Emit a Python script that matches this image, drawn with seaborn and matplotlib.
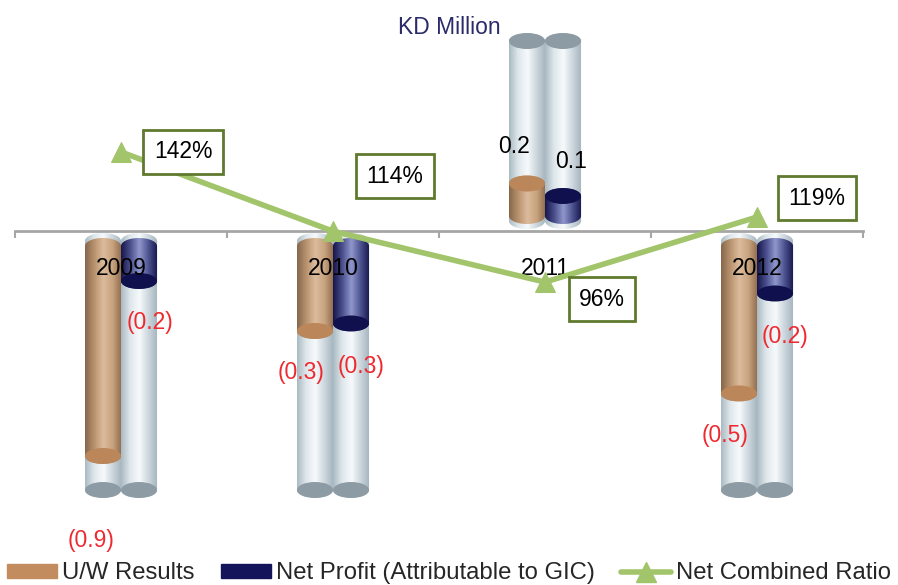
import numpy as np
import pandas as pd
import seaborn as sns
import matplotlib.pyplot as plt
from matplotlib.patches import Polygon, Ellipse, Patch
from matplotlib.lines import Line2D
from matplotlib.colors import LinearSegmentedColormap

# values (KD million), bar lengths as drawn
years = ["2009", "2010", "2011", "2012"]
uw_results = [-0.90, -0.40, 0.19, -0.65]
net_profit = [-0.20, -0.37, 0.14, -0.25]
# data labels as printed on the chart
uw_labels = ["(0.9)", "(0.3)", "0.2", "(0.5)"]
np_labels = ["(0.2)", "(0.3)", "0.1", "(0.2)"]
combined_ratio = [142, 114, 96, 119]
series_names = ["U/W Results", "Net Profit (Attributable to GIC)"]

# label placement (pixel offsets from the bar end / line point)
uw_offsets = [(-12, -85), (-14, -42), (-13, 37), (-14, -42)]
np_offsets = [(11, -41), (10, -43), (8, 35), (10, -43)]
ratio_offsets = [(62, 0), (62, 55), (57, -17), (60, 19)]

BROWN = "#c38c5f"
NAVY = "#14145a"
GREEN = "#a2c46a"
OLIVE = "#5f7a2e"
RED = "#ee2a30"

BACK_TOP, BACK_BOTTOM = 0.76, -1.036   # extent of the grey "tubes"
CAP_H = 0.064                           # ellipse height in data units

brown_cmap = LinearSegmentedColormap.from_list(
    "brown", ["#86674a", "#b8926e", "#dcbc9c", "#c8a27e", "#8c6a4a"])
navy_cmap = LinearSegmentedColormap.from_list(
    "navy", ["#15154a", "#4a4f8c", "#8f97cc", "#4c528e", "#14144a"])
back_cmap = LinearSegmentedColormap.from_list(
    "back", ["#a9b9c2", "#dfe7eb", "#f7fafb", "#cbd6dc", "#a3b3bc"])

sns.set_theme(style="white")
plt.rcParams["font.family"] = ["Liberation Sans", "DejaVu Sans"]

fig = plt.figure(figsize=(8.98, 5.85), dpi=100)
ax = fig.add_axes([15 / 898, 1 - 500 / 585, 848 / 898, 470 / 585])

df = pd.DataFrame({
    "year": years * 2,
    "value": uw_results + net_profit,
    "series": [series_names[0]] * 4 + [series_names[1]] * 4,
})
sns.barplot(data=df, x="year", y="value", hue="series", palette=[BROWN, NAVY],
            width=0.34, saturation=1, legend=False, ax=ax)


def cylinder(x0, w, y_start, y_end, cmap, cap_color, z):
    xc, a, b = x0 + w / 2, w / 2, CAP_H / 2
    lo, hi = min(y_start, y_end), max(y_start, y_end)
    t = np.linspace(0, np.pi, 60)
    upper = np.column_stack([xc + a * np.cos(t), hi + b * np.sin(t)])
    lower = np.column_stack([xc + a * np.cos(t + np.pi), lo + b * np.sin(t + np.pi)])
    poly = Polygon(np.vstack([upper, lower]), closed=True, facecolor="none",
                   edgecolor="none", transform=ax.transData)
    ax.add_patch(poly)
    grad = np.linspace(0, 1, 256).reshape(1, -1)
    im = ax.imshow(grad, cmap=cmap, extent=(x0, x0 + w, lo - b, hi + b),
                   aspect="auto", origin="lower", zorder=z, interpolation="bicubic")
    im.set_clip_path(poly)
    ax.add_patch(Ellipse((xc, y_end), w, 2 * b, facecolor=cap_color,
                         edgecolor="none", zorder=z + 0.1))


cmaps = [brown_cmap, navy_cmap]
caps = ["#bb8659", "#10104e"]
labels = [uw_labels, np_labels]
offsets = [uw_offsets, np_offsets]
for k, cont in enumerate(ax.containers):
    for i, bar in enumerate(cont):
        bar.set_visible(False)
        x0, w, v = bar.get_x(), bar.get_width(), bar.get_height()
        sgn = 1 if v > 0 else -1
        far = BACK_TOP if v > 0 else BACK_BOTTOM
        cylinder(x0, w, sgn * 0.04, far, back_cmap, "#8c9ba4", 1)
        cylinder(x0, w, sgn * 0.06, v, cmaps[k], caps[k], 3)
        ax.annotate(labels[k][i], xy=(x0 + w / 2, v), xytext=offsets[k][i],
                    textcoords="offset pixels", ha="center", va="center",
                    fontsize=16.5, color=RED if v < 0 else "black", zorder=6)

for i, yr in enumerate(years):
    ax.text(i, -0.15, yr, ha="center", va="center", fontsize=16.5,
            color="black", zorder=6)

ax.set_xlim(-0.5, 3.5)
ax.set_ylim(-(500 - 231) / 250, (231 - 30) / 250)
for s in ["top", "left", "right"]:
    ax.spines[s].set_visible(False)
ax.spines["bottom"].set_position(("data", 0))
ax.spines["bottom"].set_color("#a6a6a6")
ax.spines["bottom"].set_linewidth(2)
ax.set_xticks([-0.5, 0.5, 1.5, 2.5, 3.5])
ax.set_xticklabels([])
ax.tick_params(axis="x", direction="out", length=5, width=1.5, color="#a6a6a6",
               bottom=True)
ax.set_yticks([])
ax.set_xlabel("")
ax.set_ylabel("")

# combined ratio on a secondary scale
ax2 = ax.twinx()
sns.lineplot(x=np.arange(len(years)), y=combined_ratio, ax=ax2, color=GREEN,
             linewidth=4, marker="^", markersize=15, markeredgecolor=GREEN)
ax2.set_ylim(19, 185.1)
ax2.axis("off")
for i, v in enumerate(combined_ratio):
    ax2.annotate(f"{v}%", xy=(i, v), xytext=ratio_offsets[i],
                 textcoords="offset pixels", ha="center", va="center",
                 fontsize=16.5, color="black",
                 bbox=dict(boxstyle="square,pad=0.45", fc="white", ec=OLIVE, lw=2))

fig.text(449 / 898, 1 - 27 / 585, "KD Million", ha="center", va="center",
         fontsize=16.5, color="#2b2b6b")

handles = [Patch(color=BROWN), Patch(color=NAVY),
           Line2D([], [], color=GREEN, lw=4, marker="^", markersize=15)]
fig.legend(handles, series_names + ["Net Combined Ratio"], loc="lower left",
           bbox_to_anchor=(7 / 898, 0.001), ncol=3, frameon=False, fontsize=17.2,
           handlelength=2.1, handleheight=0.55, handletextpad=0.2,
           columnspacing=1.1, borderpad=0, borderaxespad=0)

fig.savefig("out.png", dpi=100)
